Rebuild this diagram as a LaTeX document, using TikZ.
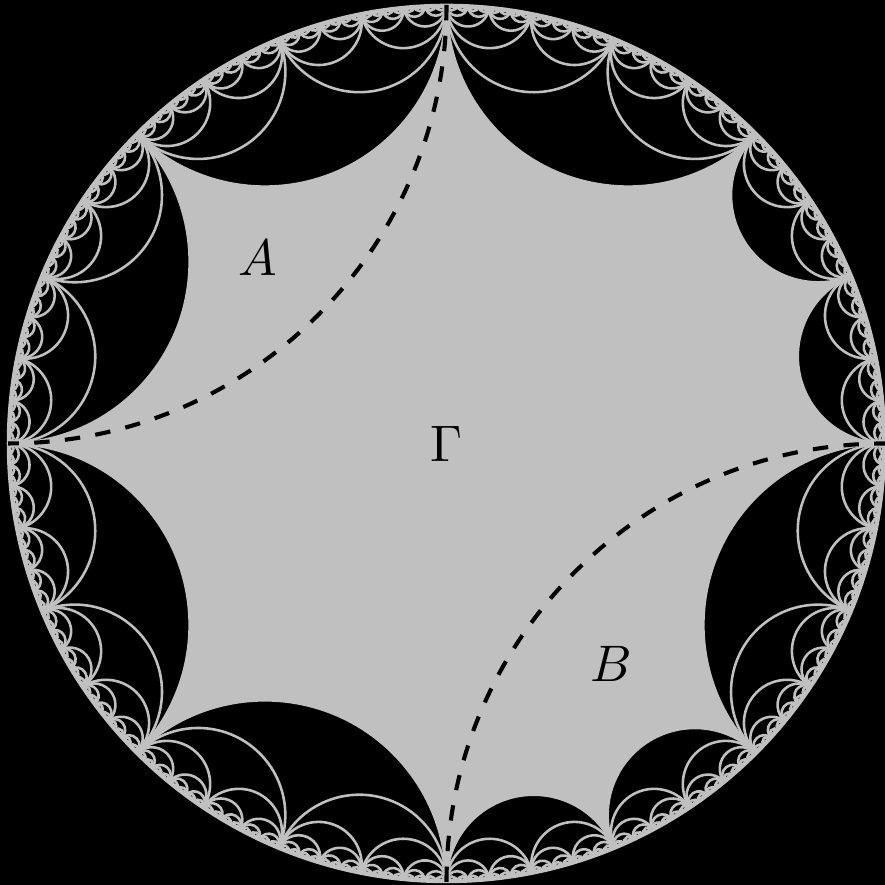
\documentclass[tikz,border=0pt]{standalone}
\usepackage{tikz}
\definecolor{diskgrey}{RGB}{192, 192, 192}
\usetikzlibrary{calc}

\begin{document}
\begin{tikzpicture}[line width=0.5pt, geodesic/.style={draw=diskgrey}, cuspline/.style={black, line width=0.8pt, dashed}, every node/.style={font=\normalsize}]
    \def\R{3}
    \path [use as bounding box, fill=black] (-3.055,-3.021) rectangle (3.0,3.034);
    \fill [black] (0,0) circle (\R);

    % dyadic geodesics near the boundary
    \foreach \n in {3,...,10} {
        \pgfmathtruncatemacro{\N}{2^\n}
        \pgfmathsetmacro{\d}{360/\N}
        \foreach \k in {1,...,\N} {
            \draw [geodesic] ({(\k-1)*\d}:\R) arc [start angle={(\k-1)*\d+270}, end angle={\k*\d+90}, radius={\R*tan(\d/2)}];
        }
    }

    % the fundamental domain
    \fill [diskgrey] (0:\R)
        \foreach \a/\b in {0/22.5, 22.5/45, 45/90, 90/135, 135/180, 180/225, 225/270, 270/292.5, 292.5/315, 315/360} {
            arc [start angle={\a+270}, end angle={\b+90}, radius={\R*tan((\b-\a)/2)}]
        } -- cycle;
    \draw [diskgrey] (0,0) circle (\R);

    \coordinate (cusptop) at (90:\R);
    \coordinate (cuspbottom) at (270:\R);
    \draw [cuspline] (cusptop) arc [start angle=360, end angle=270, radius=\R];
    \draw [cuspline] (cuspbottom) arc [start angle=180, end angle=90, radius=\R];

    \node (labelA) at (-1.29, 1.27) {$A$};
    \node (labelG) at (0, 0) {$\Gamma$};
    \node (labelB) at (1.13, -1.51) {$B$};
\end{tikzpicture}
\end{document}
